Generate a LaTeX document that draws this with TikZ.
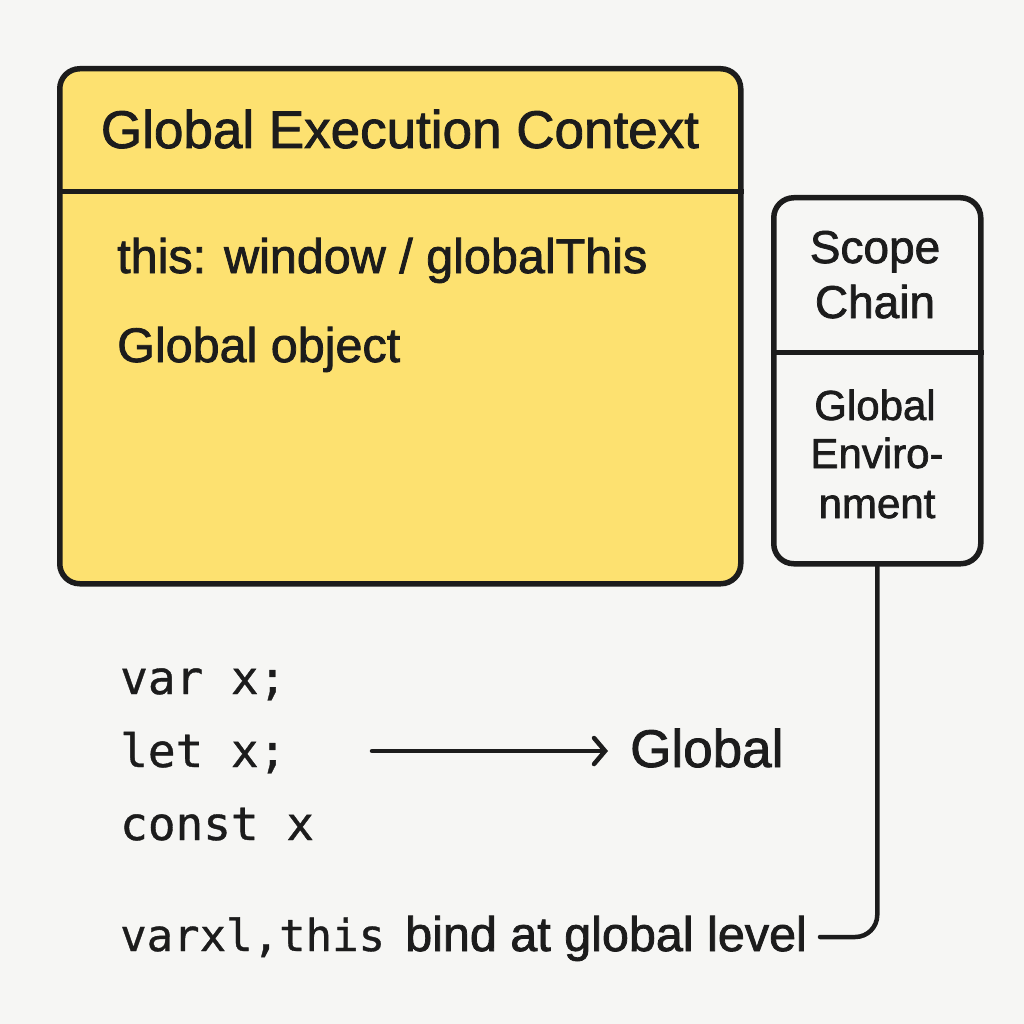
\documentclass[tikz,border=0pt]{standalone}
\usepackage{fontspec}
\setmainfont{Liberation Sans}
\newfontfamily\medfont[FakeBold=1.6]{Liberation Sans}
\newfontfamily\codefont[FakeBold=0.8]{DejaVu Sans Mono}
\usetikzlibrary{arrows.meta}
\definecolor{bg}{RGB}{246,246,244}
\definecolor{ylw}{RGB}{253,225,112}
\definecolor{ink}{RGB}{28,28,28}
\tikzset{
  boxframe/.style={draw=ink, line width=5.5pt, rounded corners=20pt, inner sep=0pt, anchor=north west},
  divider/.style={draw=ink, line width=5pt},
  conn/.style={draw=ink, line width=4.5pt, line cap=round},
  txt/.style={text=ink, inner sep=0pt},
  title/.style={txt, font=\medfont\fontsize{53}{60}\selectfont},
  body/.style={txt, font=\medfont\fontsize{48.5}{56}\selectfont},
  scopetop/.style={txt, font=\medfont\fontsize{46}{52}\selectfont},
  scopebot/.style={txt, font=\medfont\fontsize{42}{48}\selectfont},
  code/.style={txt, font=\codefont\fontsize{46}{52}\selectfont},
  codesmall/.style={txt, font=\codefont\fontsize{44}{50}\selectfont},
}
\begin{document}
\begin{tikzpicture}[x=1pt,y=-1pt]
\fill[bg] (0,0) rectangle (1024,1024);
\useasboundingbox (0,0) rectangle (1024,1024);

% Global Execution Context box
\node[boxframe, fill=ylw, minimum width=681pt, minimum height=515pt] (gec) at (57,66) {};
\draw[divider] (gec.west |- 0,192) -- (gec.east |- 0,192);
\node[title, anchor=base] (gectitle) at (400,148) {Global Execution Context};
\node[body, anchor=base west] (thisline) at (117,273) {this: window / globalThis};
\node[body, anchor=base west] (globj) at (117,362) {Global object};

% Scope chain box
\node[boxframe, fill=bg, minimum width=207pt, minimum height=366pt] (scope) at (771,195) {};
\draw[divider] (scope.west |- 0,352) -- (scope.east |- 0,352);
\node[scopetop, anchor=base] (sc1) at (875,263) {Scope};
\node[scopetop, anchor=base] (sc2) at (875,318) {Chain};
\node[scopebot, anchor=base] (ge1) at (875,420) {Global};
\node[scopebot, anchor=base] (ge2) at (877,468) {Enviro-};
\node[scopebot, anchor=base] (ge3) at (877,518) {nment};

% code lines
\node[code, anchor=base west] (c1) at (120,694) {var x;};
\node[code, anchor=base west] (c2) at (120,767) {let x;};
\node[code, anchor=base west] (c3) at (120,840) {const x};

\node[title, anchor=base west] (glob) at (630,767) {Global};
\coordinate (arrstart) at (372,751);
\draw[conn, -{Straight Barb[length=11pt, width=26pt, line cap=round]}] (arrstart) -- ([xshift=-22pt]glob.west |- arrstart);

% bottom line
\node[codesmall, anchor=base west] (vx) at (120,951) {varxl,this};
\node[body, anchor=base west] (bind) at (405,951) {bind at global level};
\coordinate (bindend) at (820,937);
\draw[conn, rounded corners=22pt] (scope.south) |- (bindend);
\end{tikzpicture}
\end{document}
